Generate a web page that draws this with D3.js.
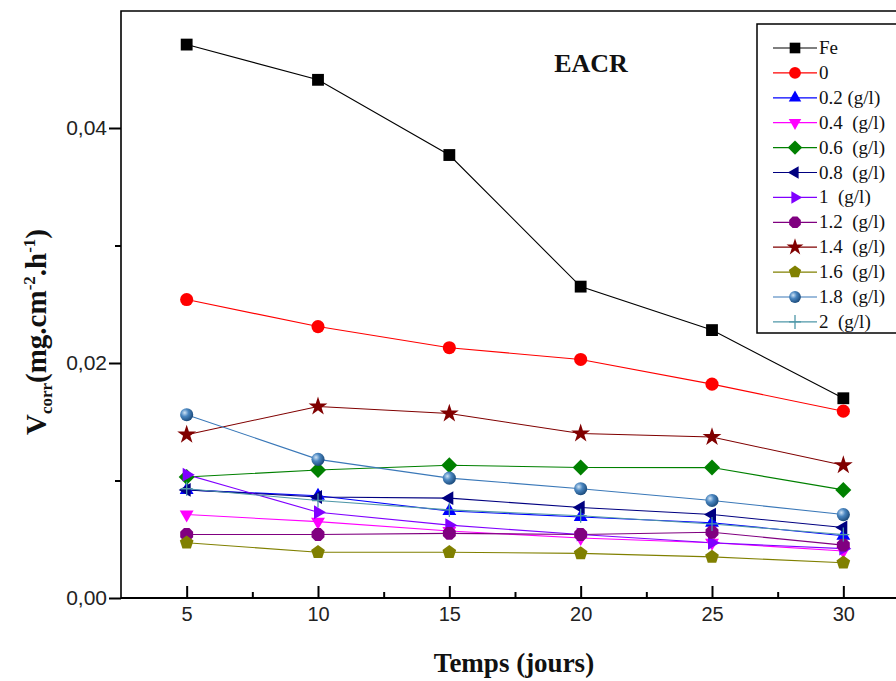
<!DOCTYPE html>
<html>
<head>
<meta charset="utf-8">
<script src="https://cdn.jsdelivr.net/npm/d3@7"></script>
<style>
  body { margin: 0; background: #fff; }
  svg { display: block; }
</style>
</head>
<body>
<div id="chart"></div>
<script>
// Chart size and plot area (the right side of the frame runs past the picture)
let w = 896;
let h = 681;
let padLeft = 121, padRight = 909, padTop = 11, padBottom = 598;
let serif = "'Liberation Serif', 'Times New Roman', serif";
let sans = "'Liberation Sans', Arial, sans-serif";

// Data
let days = [5, 10, 15, 20, 25, 30];
let seriesNames = ["Fe", "0", "0.2 (g/l)", "0.4  (g/l)", "0.6  (g/l)", "0.8  (g/l)", "1  (g/l)", "1.2  (g/l)", "1.4  (g/l)", "1.6  (g/l)", "1.8  (g/l)", "2  (g/l)"];
let fe    = [0.0471, 0.0441, 0.0377, 0.0265, 0.0228, 0.0170];
let c0    = [0.0254, 0.0231, 0.0213, 0.0203, 0.0182, 0.0159];
let c02   = [0.0092, 0.0087, 0.0074, 0.0069, 0.0064, 0.0053];
let c04   = [0.0071, 0.0065, 0.0057, 0.0051, 0.0047, 0.0040];
let c06   = [0.0103, 0.0109, 0.0113, 0.0111, 0.0111, 0.0092];
let c08   = [0.0092, 0.0086, 0.0085, 0.0077, 0.0071, 0.0060];
let c1    = [0.0105, 0.0073, 0.0062, 0.0054, 0.0047, 0.0042];
let c12   = [0.0054, 0.0054, 0.0055, 0.0054, 0.0056, 0.0045];
let c14   = [0.0139, 0.0163, 0.0157, 0.0140, 0.0137, 0.0113];
let c16   = [0.0047, 0.0039, 0.0039, 0.0038, 0.0035, 0.0030];
let c18   = [0.0156, 0.0118, 0.0102, 0.0093, 0.0083, 0.0071];
let c2    = [0.0093, 0.0083, 0.0075, 0.0070, 0.0063, 0.0054];
let xTicks = [5, 10, 15, 20, 25, 30];
let yTicks = [0, 0.02, 0.04];

let allValues = [fe, c0, c02, c04, c06, c08, c1, c12, c14, c16, c18, c2];
let colors = ["#000000", "#ff0000", "#0000ff", "#ff00ff", "#008000", "#000080", "#8000ff", "#800080", "#800000", "#808000", "#3a78b8", "#4f97a8"];
let shapes = ["square", "circle", "up", "down", "diamond", "left", "right", "octagon", "star", "pentagon", "sphere", "plus"];

let series = seriesNames.map((name, i) => ({
  name: name,
  color: colors[i],
  shape: shapes[i],
  values: allValues[i].map((v, j) => ({x: days[j], y: v}))
}));

// Scales
let xScale = d3.scaleLinear().domain([2.5, 32.5]).range([padLeft, padRight]);
let yScale = d3.scaleLinear().domain([0, 0.05]).range([padBottom, padBottom - 0.05 * 11750]);

let svg = d3.select("#chart").append("svg")
  .attr("width", w)
  .attr("height", h);

// Gradient for the sphere marker
let grad = svg.append("defs").append("radialGradient")
  .attr("id", "sphere").attr("cx", "35%").attr("cy", "35%").attr("r", "65%");
grad.append("stop").attr("offset", "0%").attr("stop-color", "#cfe3f5");
grad.append("stop").attr("offset", "45%").attr("stop-color", "#4a86c0");
grad.append("stop").attr("offset", "100%").attr("stop-color", "#1f4f80");

// Polygon path helper for the shapes d3.symbol does not have
function polygon(n, r, rot) {
  let pts = d3.range(n).map(k => {
    let a = rot + k * 2 * Math.PI / n;
    return [r * Math.cos(a), r * Math.sin(a)];
  });
  return "M" + pts.map(p => p.join(",")).join("L") + "Z";
}

function markerPath(shape, scale) {
  let s = scale || 1;
  if (shape === "square") return d3.symbol(d3.symbolSquare, 140 * s * s)();
  if (shape === "circle" || shape === "sphere") return d3.symbol(d3.symbolCircle, 135 * s * s)();
  if (shape === "up") return polygon(3, 8 * s, -Math.PI / 2);
  if (shape === "down") return polygon(3, 8 * s, Math.PI / 2);
  if (shape === "left") return polygon(3, 8 * s, Math.PI);
  if (shape === "right") return polygon(3, 8 * s, 0);
  if (shape === "diamond") return polygon(4, 8 * s, 0);
  if (shape === "octagon") return polygon(8, 7 * s, Math.PI / 8);
  if (shape === "pentagon") return polygon(5, 7.2 * s, -Math.PI / 2);
  if (shape === "star") return d3.symbol(d3.symbolStar, 110 * s * s)();
  if (shape === "plus") return "M-6,0L6,0M0,-7L0,7";
  return "";
}

function drawMarker(g, d, x, y, scale) {
  let m = g.append("path")
    .attr("d", markerPath(d.shape, scale))
    .attr("transform", "translate(" + x + "," + y + ")");
  if (d.shape === "plus") {
    m.attr("fill", "none").attr("stroke", d.color).attr("stroke-width", 1.3);
  } else if (d.shape === "sphere") {
    m.attr("fill", "url(#sphere)");
  } else {
    m.attr("fill", d.color);
  }
}

// Lines
let line = d3.line().x(d => xScale(d.x)).y(d => yScale(d.y));
let plot = svg.append("g");
plot.selectAll(".series-line")
  .data(series)
  .enter()
  .append("path")
  .classed("series-line", true)
  .attr("d", d => line(d.values))
  .attr("fill", "none")
  .attr("stroke", d => d.color)
  .attr("stroke-width", 1.1);

// Markers
series.forEach(s => {
  let g = plot.append("g");
  s.values.forEach(p => drawMarker(g, s, xScale(p.x), yScale(p.y), 1));
});

// Frame
svg.append("path")
  .attr("d", "M" + padRight + "," + padTop + "L" + padLeft + "," + padTop + "L" + padLeft + "," + padBottom + "L" + padRight + "," + padBottom)
  .attr("fill", "none")
  .attr("stroke", "#000")
  .attr("stroke-width", 1.6);
svg.append("line")
  .attr("x1", padLeft).attr("x2", padRight).attr("y1", padBottom).attr("y2", padBottom)
  .attr("stroke", "#000").attr("stroke-width", 2.2);

// X axis: major ticks inward, minor ticks in between
let xAxis = d3.axisBottom(xScale).tickValues(xTicks).tickSize(-12).tickPadding(9).tickFormat(d3.format("d"));
let xg = svg.append("g").attr("transform", "translate(0," + padBottom + ")").call(xAxis);
xg.select(".domain").remove();
xg.selectAll(".tick line").attr("stroke-width", 2);
xg.selectAll(".tick text").attr("font-family", sans).attr("font-size", 20).attr("fill", "#222");
let xMinor = d3.axisBottom(xScale).tickValues([7.5, 12.5, 17.5, 22.5, 27.5, 32.5]).tickSize(-6).tickFormat("");
let xm = svg.append("g").attr("transform", "translate(0," + padBottom + ")").call(xMinor);
xm.select(".domain").remove();
xm.selectAll(".tick line").attr("stroke-width", 2);

// Y axis: ticks outward
let yAxis = d3.axisLeft(yScale).tickValues(yTicks).tickSize(12).tickPadding(2).tickFormat(d => d3.format(".2f")(d).replace(".", ","));
let yg = svg.append("g").attr("transform", "translate(" + padLeft + ",0)").call(yAxis);
yg.select(".domain").remove();
yg.selectAll(".tick line").attr("stroke-width", 2);
yg.selectAll(".tick text").attr("font-family", sans).attr("font-size", 21).attr("fill", "#222");
let yMinor = d3.axisLeft(yScale).tickValues([0.01, 0.03]).tickSize(6).tickFormat("");
let ym = svg.append("g").attr("transform", "translate(" + padLeft + ",0)").call(yMinor);
ym.select(".domain").remove();
ym.selectAll(".tick line").attr("stroke-width", 2);

// Title inside the plot
svg.append("text")
  .text("EACR")
  .attr("x", 591)
  .attr("y", 72)
  .attr("text-anchor", "middle")
  .attr("font-family", serif)
  .attr("font-weight", "bold")
  .attr("font-size", 26)
  .attr("fill", "#111");

// Axis titles
svg.append("text")
  .text("Temps (jours)")
  .attr("x", 514)
  .attr("y", 672)
  .attr("text-anchor", "middle")
  .attr("font-family", serif)
  .attr("font-weight", "bold")
  .attr("font-size", 27)
  .attr("fill", "#111");

let yTitle = svg.append("text")
  .attr("transform", "translate(46,332) rotate(-90)")
  .attr("text-anchor", "middle")
  .attr("font-family", serif)
  .attr("font-weight", "bold")
  .attr("font-size", 29)
  .attr("fill", "#111");
yTitle.append("tspan").text("V");
yTitle.append("tspan").text("corr").attr("font-size", 17).attr("dy", 6);
yTitle.append("tspan").text("(mg.cm").attr("dy", -6);
yTitle.append("tspan").text("-2").attr("font-size", 17).attr("dy", -11);
yTitle.append("tspan").text(".h").attr("dy", 11);
yTitle.append("tspan").text("-1").attr("font-size", 17).attr("dy", -11);
yTitle.append("tspan").text(")").attr("dy", 11);

// Legend
let legX = 757, legY = 24, rowH = 24.9;
let legend = svg.append("g").attr("id", "chart-legend");
legend.append("rect")
  .attr("x", legX).attr("y", legY)
  .attr("width", 160).attr("height", 309)
  .attr("fill", "#fff").attr("stroke", "#000").attr("stroke-width", 1.5);
series.forEach((s, i) => {
  let yy = legY + 24 + i * rowH;
  legend.append("line")
    .attr("x1", 773).attr("x2", 817).attr("y1", yy).attr("y2", yy)
    .attr("stroke", s.color).attr("stroke-width", 1.2);
  drawMarker(legend, s, 795, yy, 0.9);
  legend.append("text")
    .text(s.name)
    .attr("x", 819)
    .attr("y", yy + 6)
    .attr("font-family", serif)
    .attr("font-size", 19)
    .attr("fill", "#111")
    .style("white-space", "pre");
});
</script>
</body>
</html>
